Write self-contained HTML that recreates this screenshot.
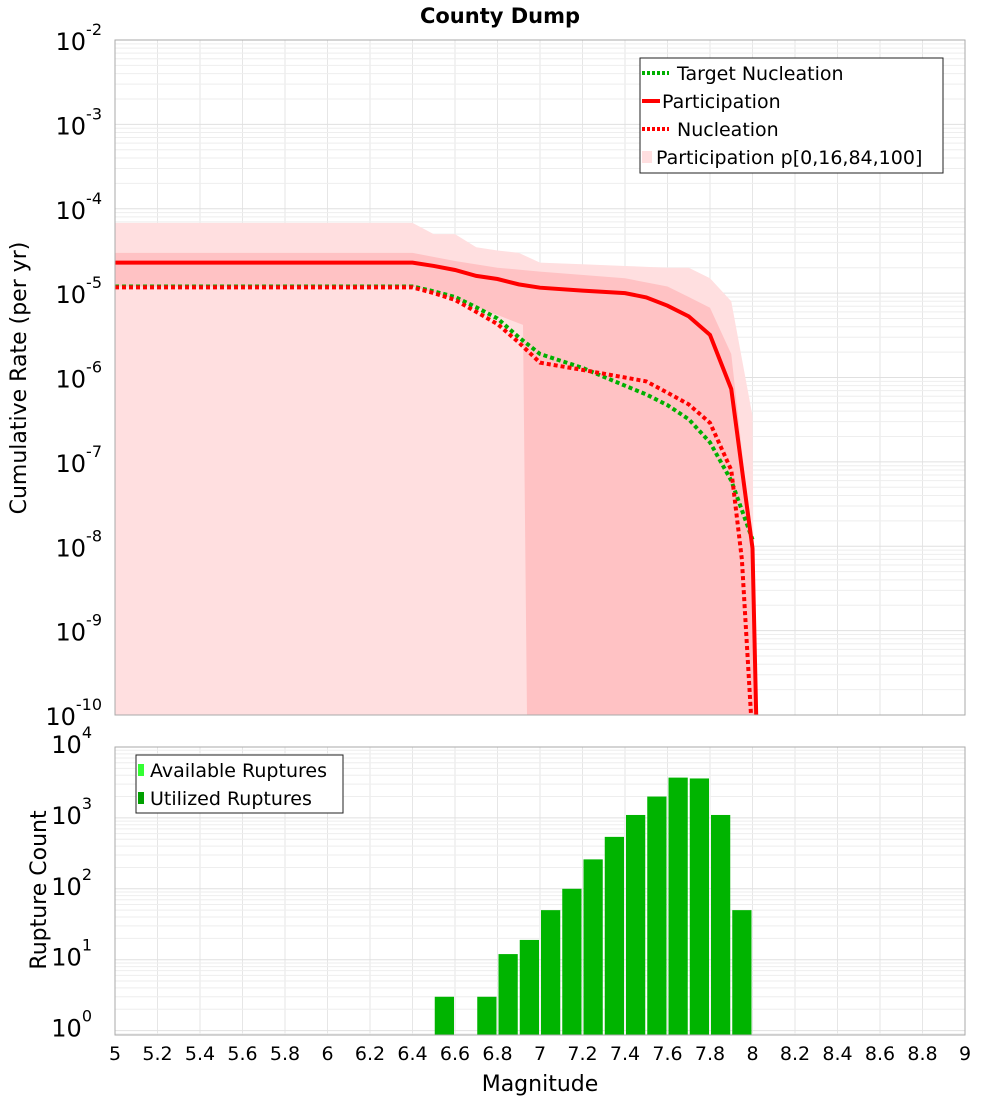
<!DOCTYPE html>
<html><head><meta charset="utf-8">
<style>
body{margin:0;background:#fff;}
svg text{font-family:"DejaVu Sans","Liberation Sans",sans-serif;fill:#000;}
</style></head>
<body>
<svg id="chart" width="1000" height="1100" xmlns="http://www.w3.org/2000/svg">
<text x="500" y="23" text-anchor="middle" font-size="21" font-weight="bold">County Dump</text>
<g id="topg"></g>
<g id="botg"></g>
<text transform="translate(26,378) rotate(-90)" text-anchor="middle" font-size="22">Cumulative Rate (per yr)</text>
<text transform="translate(46,890) rotate(-90)" text-anchor="middle" font-size="22">Rupture Count</text>
<text x="540" y="1091" text-anchor="middle" font-size="22">Magnitude</text>
</svg>
<script>
// ---- data ----
const partMags = [5,6.4,6.5,6.6,6.7,6.8,6.9,7.0,7.2,7.4,7.5,7.6,7.7,7.8,7.9,8.0,8.02];
const partVals = [2.3e-5,2.3e-5,2.1e-5,1.88e-5,1.6e-5,1.47e-5,1.27e-5,1.16e-5,1.07e-5,1.0e-5,8.9e-6,7.1e-6,5.3e-6,3.2e-6,7.3e-7,9.5e-9,1e-11];
const nuclMags = [5,6.4,6.5,6.6,6.7,6.8,6.9,7.0,7.2,7.4,7.5,7.6,7.7,7.8,7.9,7.95,8.0];
const nuclVals = [1.17e-5,1.17e-5,1.0e-5,8.3e-6,6.0e-6,4.3e-6,2.6e-6,1.5e-6,1.23e-6,1.0e-6,9e-7,6.6e-7,4.8e-7,2.9e-7,8e-8,7e-9,1e-11];
const targMags = [5,6.4,6.5,6.6,6.7,6.8,6.9,7.0,7.2,7.4,7.5,7.6,7.7,7.8,7.9,8.0];
const targVals = [1.2e-5,1.2e-5,1.05e-5,9e-6,6.8e-6,5e-6,3e-6,1.9e-6,1.3e-6,8e-7,6.3e-7,4.7e-7,3.2e-7,1.7e-7,6e-8,1.2e-8];
const outerTopMags = [5,6.4,6.5,6.6,6.7,6.8,6.9,7.0,7.2,7.4,7.6,7.7,7.8,7.9,8.0,8.01];
const outerTopVals = [6.8e-5,6.8e-5,5e-5,5e-5,3.5e-5,3.2e-5,3e-5,2.3e-5,2.2e-5,2.1e-5,2e-5,2e-5,1.5e-5,8e-6,3.5e-7,1e-11];
const innerTopMags = [5,6.4,6.6,6.8,7.0,7.4,7.6,7.7,7.8,7.9,8.0,8.01];
const innerTopVals = [3e-5,3e-5,2.4e-5,2.0e-5,1.8e-5,1.5e-5,1.2e-5,9e-6,6.7e-6,1.9e-6,1e-8,1e-11];
const innerBotMags = [5,6.4,6.6,6.8,6.92,6.94];
const innerBotVals = [1.2e-5,1.2e-5,8.5e-6,5.5e-6,4.2e-6,1e-11];
const binStarts = [6.5,6.7,6.8,6.9,7.0,7.1,7.2,7.3,7.4,7.5,7.6,7.7,7.8,7.9];
const binCounts = [3,3,12,19,50,100,260,540,1100,2000,3700,3600,1100,50];
const xTicks = [5,5.2,5.4,5.6,5.8,6,6.2,6.4,6.6,6.8,7,7.2,7.4,7.6,7.8,8,8.2,8.4,8.6,8.8,9];
const xTickLabels = ["5","5.2","5.4","5.6","5.8","6","6.2","6.4","6.6","6.8","7","7.2","7.4","7.6","7.8","8","8.2","8.4","8.6","8.8","9"];
const topExps = [-2,-3,-4,-5,-6,-7,-8,-9,-10];
const botExps = [4,3,2,1,0];

// ---- scales ----
const L=115,R=965;
const x=m=>L+(m-5)/4*(R-L);
const T1=40,B1=715;
const y1=v=>{let e=Math.log10(v);e=Math.max(e,-10.3);return T1+(-2-e)/8*(B1-T1);};
const T2=747,B2=1035;
const y2=v=>T2+(4-Math.log10(v))*70.9;
const NS="http://www.w3.org/2000/svg";
function mk(p,t,a){const e=document.createElementNS(NS,t);for(const k in a)e.setAttribute(k,a[k]);p.appendChild(e);return e;}
const svgEl=document.getElementById('chart');
const defs=mk(svgEl,'defs',{});
const c1=mk(defs,'clipPath',{id:'c1'});mk(c1,'rect',{x:L,y:T1,width:R-L,height:B1-T1});
const topG=document.getElementById('topg'),botG=document.getElementById('botg');

function grid(g,T,B,decades,ymap){
  for(let m=5;m<=9.001;m+=0.2){const l=mk(g,'line',{x1:x(m),x2:x(m),y1:T,y2:B,stroke:'#e6e6e6','stroke-width':1});
  }
  decades.forEach(e=>{for(let k=1;k<10;k++){const yy=ymap(k*Math.pow(10,e));if(yy<T-0.5||yy>B+0.5)continue;
   const l=mk(g,'line',{x1:L,x2:R,y1:yy,y2:yy,stroke:k==1?'#e0e0e0':'#eeeeee','stroke-width':1});
   }});
}
grid(topG,T1,B1,[-10,-9,-8,-7,-6,-5,-4,-3,-2],y1);
grid(botG,T2,B2,[-1,0,1,2,3],y2);

const plot=mk(topG,'g',{'clip-path':'url(#c1)'});
function band(tm,tv,fill,name){
  let d=tm.map((m,i)=>(i?'L':'M')+x(m)+','+y1(tv[i])).join('');
  d+='L'+x(tm[tm.length-1])+','+(B1+10)+'L'+x(tm[0])+','+(B1+10);
  const p=mk(plot,'path',{d:d+'Z',fill:fill});
  
}
band(outerTopMags,outerTopVals,'#ffdfe0','band-p0-p100');
{
  let d=innerTopMags.map((m,i)=>(i?'L':'M')+x(m)+','+y1(innerTopVals[i])).join('');
  d+='L'+x(innerTopMags[innerTopMags.length-1])+','+(B1+10);
  d+='L'+x(innerBotMags[innerBotMags.length-1])+','+(B1+10);
  for(let i=innerBotMags.length-1;i>=0;i--)d+='L'+x(innerBotMags[i])+','+y1(innerBotVals[i]);
  const p=mk(plot,'path',{d:d+'Z',fill:'#ffc2c4'});
  
}
function line(ms,vs,col,dash,name){
  const p=mk(plot,'polyline',{points:ms.map((m,i)=>x(m)+','+y1(vs[i])).join(' '),fill:'none',stroke:col,'stroke-width':4});
  if(dash)p.setAttribute('stroke-dasharray',dash);
  
}
line(targMags,targVals,'#00b000','4,3','target-nucleation-line');
line(nuclMags,nuclVals,'#ff0000','4,3','nucleation-line');
line(partMags,partVals,'#ff0000',null,'participation-line');

function frame(g,T,B){const r=mk(g,'rect',{x:L,y:T,width:R-L,height:B-T,fill:'none',stroke:'#aaaaaa','stroke-width':1});
 }
frame(topG,T1,B1);

function ylabels(g,exps,ymap,name){
  exps.forEach(e=>{const yy=ymap(Math.pow(10,e));
   const t=mk(g,'text',{x:e>=0?92:102,y:yy+10,'text-anchor':'end','font-size':24});
   
   t.textContent='10';const s=mk(t,'tspan',{dy:-15,'font-size':16});s.textContent=String(e);
   });
}
ylabels(topG,topExps,y1,'top-y-tick-label');
ylabels(botG,botExps,v=>y2(v)-4,'bottom-y-tick-label');
binStarts.forEach((m,i)=>{
  const yy=y2(binCounts[i]);
  const r=mk(botG,'rect',{x:x(m)+1,y:yy,width:x(m+0.1)-x(m)-2,height:B2-yy,fill:'#00b400'});
  
});
frame(botG,T2,B2);
xTicks.forEach((m,i)=>{const t=mk(botG,'text',{x:x(m),y:1060,'text-anchor':'middle','font-size':19});
 t.textContent=xTickLabels[i];});

function legend(g,bx,by,w,h,items,name){
  const lg=mk(g,'g',{});
  mk(lg,'rect',{x:bx,y:by,width:w,height:h,fill:'#fff',stroke:'#222','stroke-width':1});
  items.forEach(it=>{
    const e=mk(lg,'g',{});
    if(it.type=='line'){const l=mk(e,'line',{x1:bx+2,x2:bx+it.len,y1:it.y,y2:it.y,stroke:it.col,'stroke-width':4});if(it.dash)l.setAttribute('stroke-dasharray',it.dash);}
    else mk(e,'rect',{x:bx+2,y:it.y-6,width:it.sw,height:12,fill:it.col});
    const t=mk(e,'text',{x:it.tx,y:it.y+7,'font-size':19});t.textContent=it.label;
  });
}
legend(topG,640,58,303,115,[
 {type:'line',y:73,col:'#00b000',dash:'3,2',len:29,tx:677,label:'Target Nucleation'},
 {type:'line',y:101,col:'#ff0000',len:20,tx:662,label:'Participation'},
 {type:'line',y:129,col:'#ff0000',dash:'3,2',len:29,tx:677,label:'Nucleation'},
 {type:'rect',y:157,col:'#ffdfe0',sw:10,tx:656,label:'Participation p[0,16,84,100]'}],'rate-legend');
legend(botG,136,755,207,58,[
 {type:'rect',y:770,col:'#33ff33',sw:6,tx:150,label:'Available Ruptures'},
 {type:'rect',y:798,col:'#00a000',sw:6,tx:150,label:'Utilized Ruptures'}],'count-legend');
</script>
</body></html>
